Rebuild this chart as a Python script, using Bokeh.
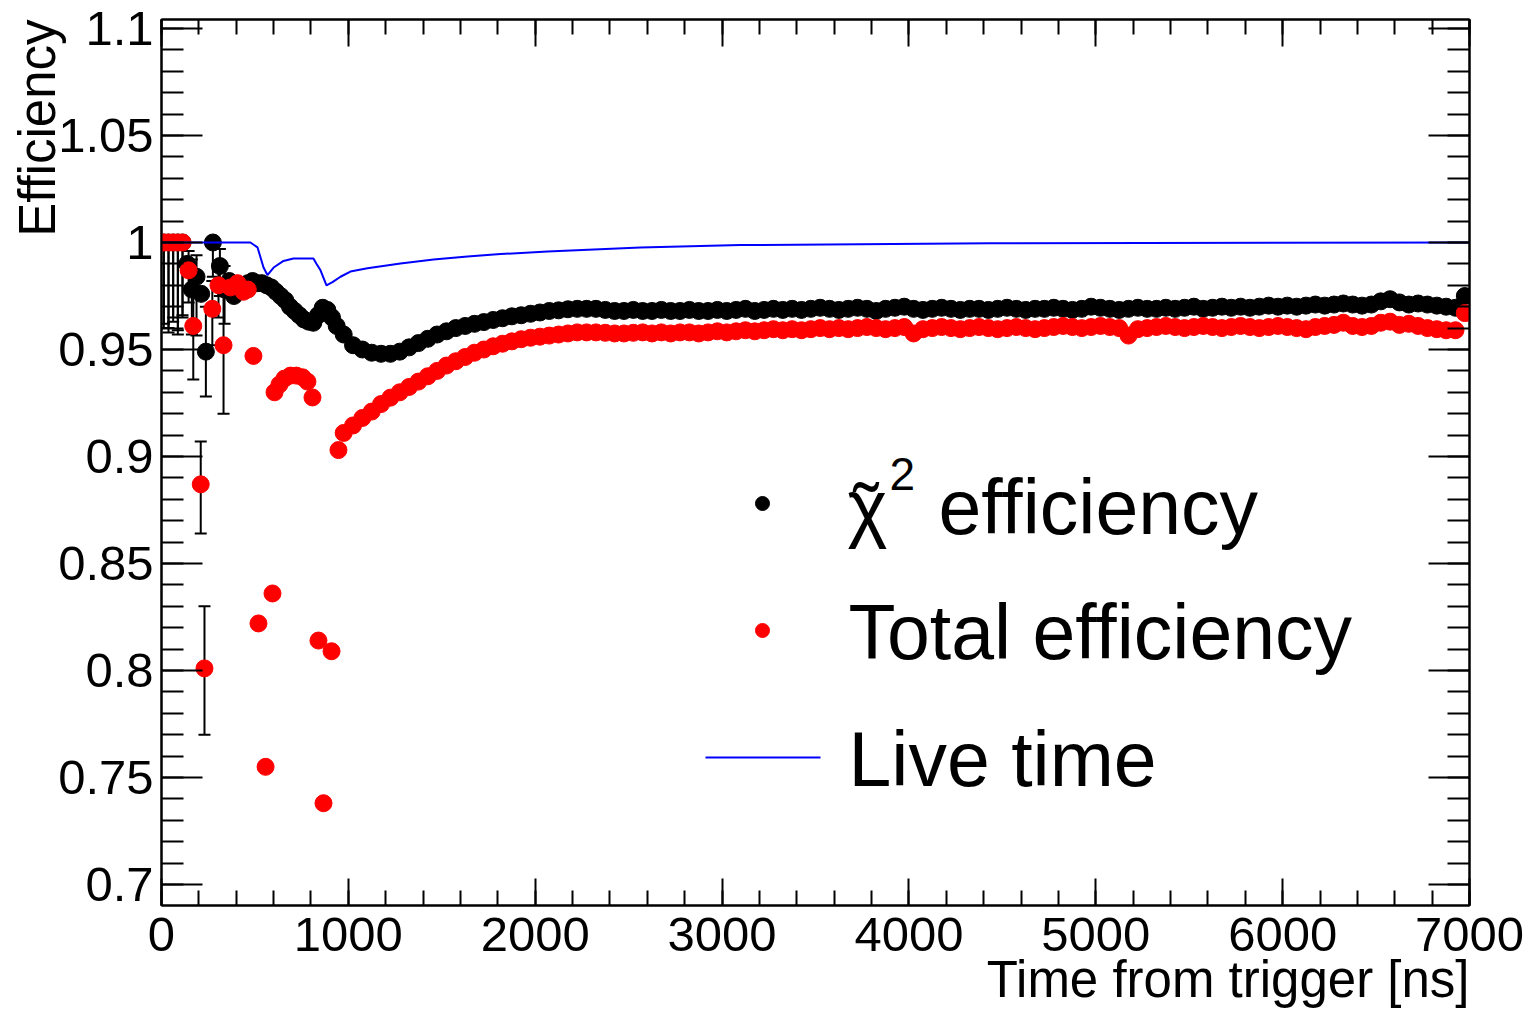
import math
from bokeh.plotting import figure
from bokeh.models import (Range1d, LinearAxis, FixedTicker, NumeralTickFormatter,
                          CustomJSTickFormatter, Title, ColumnDataSource, Whisker, TeeHead)
from bokeh.embed import file_html
from bokeh.resources import INLINE
from bokeh.core.properties import value

# ---------------- data ----------------
# chi2 efficiency: early, irregular bins (ns) and values
chi2_t_early = [12.5, 37.5, 62.5, 87.5, 112.5, 137.5, 162.5, 187.5, 212.5, 237.5,
                275, 312.5, 337.5, 362.5, 387.5, 412.5, 437.5, 462.5, 487.5,
                512.5, 537.5, 562.5, 587.5, 612.5, 637.5, 662.5, 687.5, 712.5,
                737.5, 762.5, 787.5, 812.5, 837.5, 862.5, 887.5, 912.5, 937.5]
chi2_eff_early = [1.0, 1.0, 1.0, 1.0, 1.0, 0.990, 0.978, 0.984, 0.976, 0.949,
                  1.0, 0.989, 0.978, 0.982, 0.975, 0.978, 0.980, 0.981, 0.982,
                  0.981, 0.981, 0.980, 0.979, 0.977, 0.975, 0.973, 0.970, 0.968,
                  0.966, 0.964, 0.963, 0.9625, 0.966, 0.9695, 0.9685, 0.965, 0.961]
# chi2 efficiency: 50 ns bins starting at 975 ns
chi2_eff_band = [
    0.957, 0.952, 0.950, 0.9485, 0.948, 0.948, 0.949, 0.951, 0.953, 0.955,
    0.957, 0.9585, 0.960, 0.961, 0.962, 0.9628, 0.9638, 0.9646, 0.9655, 0.966,
    0.9667, 0.9673, 0.968, 0.9683, 0.9688, 0.969, 0.969, 0.969, 0.9685, 0.968,
    0.968, 0.9685, 0.968, 0.968, 0.9685, 0.968, 0.968, 0.9685, 0.968, 0.968,
    0.9685, 0.968, 0.9685, 0.969, 0.968, 0.9685, 0.969, 0.9685, 0.969, 0.9685,
    0.969, 0.9695, 0.969, 0.9685, 0.969, 0.9695, 0.969, 0.968, 0.969, 0.9695,
    0.970, 0.969, 0.9685, 0.969, 0.9695, 0.969, 0.9685, 0.969, 0.969, 0.9685,
    0.969, 0.9695, 0.969, 0.9685, 0.969, 0.969, 0.9695, 0.969, 0.9685, 0.969,
    0.970, 0.9695, 0.969, 0.9685, 0.969, 0.9695, 0.969, 0.969, 0.9695, 0.969,
    0.9695, 0.970, 0.969, 0.9695, 0.970, 0.9695, 0.970, 0.9695, 0.970, 0.9705,
    0.970, 0.9705, 0.970, 0.9705, 0.971, 0.9705, 0.971, 0.9715, 0.971, 0.9705,
    0.971, 0.9725, 0.9735, 0.972, 0.971, 0.9715, 0.971, 0.9705, 0.970, 0.9695,
    0.975]

# total efficiency: early, irregular bins
total_t_early = [12.5, 37.5, 62.5, 87.5, 112.5, 145, 170, 210, 230, 272, 305, 332,
                 369, 407, 439, 462, 492, 519, 557, 594, 605, 631, 658, 690, 722,
                 755, 781, 808, 840, 867, 910, 947]
total_eff_early = [1.0, 1.0, 1.0, 1.0, 1.0, 0.987, 0.961, 0.887, 0.801, 0.969, 0.980,
                   0.952, 0.979, 0.981, 0.977, 0.978, 0.947, 0.822, 0.755, 0.836,
                   0.930, 0.9336, 0.9364, 0.9378, 0.9378, 0.937, 0.935, 0.9276,
                   0.814, 0.738, 0.809, 0.903]
total_eff_band = [
    0.911, 0.9145, 0.918, 0.921, 0.9245, 0.9275, 0.930, 0.9325, 0.935, 0.9375,
    0.940, 0.9425, 0.9445, 0.9465, 0.9485, 0.950, 0.9515, 0.9527, 0.9538, 0.9548,
    0.9555, 0.956, 0.9565, 0.957, 0.9575, 0.958, 0.958, 0.958, 0.9578, 0.9575,
    0.9575, 0.9578, 0.958, 0.9575, 0.958, 0.9575, 0.958, 0.958, 0.9575, 0.958,
    0.9585, 0.958, 0.9585, 0.959, 0.9585, 0.959, 0.9595, 0.959, 0.9595, 0.959,
    0.9595, 0.960, 0.9595, 0.960, 0.9595, 0.960, 0.9605, 0.960, 0.9595, 0.960,
    0.9605, 0.9575, 0.9595, 0.960, 0.9605, 0.960, 0.9595, 0.960, 0.9605, 0.960,
    0.9595, 0.960, 0.9605, 0.960, 0.9595, 0.960, 0.9605, 0.961, 0.9605, 0.960,
    0.9605, 0.961, 0.9605, 0.960, 0.9565, 0.9595, 0.960, 0.9605, 0.961, 0.9605,
    0.960, 0.9605, 0.961, 0.9605, 0.960, 0.9605, 0.961, 0.9605, 0.960, 0.9605,
    0.961, 0.9605, 0.960, 0.9595, 0.9605, 0.961, 0.9615, 0.9625, 0.961, 0.9605,
    0.961, 0.9625, 0.963, 0.9615, 0.962, 0.961, 0.960, 0.9595, 0.959, 0.959,
    0.967]
band_start, band_step = 975, 50

# error bars (black) of the low-statistics early bins
chi2_err_t = [12.5, 37.5, 62.5, 87.5, 112.5, 162.5, 187.5, 237.5, 275, 312.5, 337.5]
chi2_err_lo = [0.962, 0.960, 0.965, 0.959, 0.966, 0.957, 0.9565, 0.928, 0.984, 0.975, 0.962]
chi2_err_hi = [1.0, 1.0, 1.0, 1.0, 1.0, 0.992, 0.994, 0.970, 1.0, 0.997, 0.989]
total_err_t = [12.5, 37.5, 62.5, 87.5, 112.5, 145, 170, 210, 230, 272, 305, 332]
total_err_lo = [0.960, 0.958, 0.963, 0.957, 0.965, 0.972, 0.936, 0.864, 0.770, 0.952, 0.965, 0.920]
total_err_hi = [1.0, 1.0, 1.0, 1.0, 1.0, 0.996, 0.980, 0.907, 0.830, 0.982, 0.989, 0.976]

# live time
live_t = [0, 476, 514, 546, 567, 600, 653, 706, 813, 830, 851, 883, 915, 958, 1011,
          1102, 1279, 1456, 1638, 1814, 2066, 2563, 3099, 4437, 7000]
live_eff = [1.0, 1.0, 0.9977, 0.9883, 0.9848, 0.9883, 0.9914, 0.9925, 0.9925, 0.9900,
            0.9870, 0.9800, 0.9815, 0.9840, 0.9864, 0.9880, 0.9902, 0.9921, 0.9935,
            0.9946, 0.9958, 0.9977, 0.9988, 0.9996, 1.0]

x_major_ticks = [0, 1000, 2000, 3000, 4000, 5000, 6000, 7000]
y_major_ticks = [0.7, 0.75, 0.8, 0.85, 0.9, 0.95, 1.0, 1.05, 1.1]

legend_labels = ["efficiency", "Total efficiency", "Live time"]
x_title = "Time from trigger [ns]"
y_title = "Efficiency"

# ---------------- layout ----------------
FONT = "Liberation Sans"
W, H = 1533, 1011
FL, FR, FT, FB = 161, 1469, 19, 905
X0, X1 = 0.0, 7000.0
Y0, Y1 = 0.6902, 1.1042
BASE_SHIFT = 0.355  # empirical correction for the text glyph baseline (in em)


def xd(px):
    return X0 + (px - FL) / (FR - FL) * (X1 - X0)


def yd(py):
    return Y1 - (py - FT) / (FB - FT) * (Y1 - Y0)


def ybase(py, size):
    return yd(py - BASE_SHIFT * size)


chi2_t = chi2_t_early + [band_start + band_step * i for i in range(len(chi2_eff_band))]
chi2_eff = chi2_eff_early + chi2_eff_band
total_t = total_t_early + [band_start + band_step * i for i in range(len(total_eff_band))]
total_eff = total_eff_early + total_eff_band

p = figure(width=W, height=H, output_backend="svg", toolbar_location=None,
           x_range=Range1d(X0, X1), y_range=Range1d(Y0, Y1),
           x_axis_location=None, y_axis_location=None,
           min_border_left=FL, min_border_right=W - FR,
           min_border_top=FT, min_border_bottom=H - FB)
p.grid.visible = False
p.outline_line_color = "black"
p.outline_line_width = 2
p.background_fill_color = "white"
p.border_fill_color = "white"

x_minor = [v for v in range(0, 7001, 200)]
y_minor = [round(0.69 + 0.01 * i, 2) for i in range(0, 42)]
xt = FixedTicker(ticks=x_major_ticks, minor_ticks=x_minor)
yt = FixedTicker(ticks=y_major_ticks, minor_ticks=y_minor)


def style_axis(ax, major_in, minor_in, labels):
    ax.major_tick_in = major_in
    ax.major_tick_out = 0
    ax.minor_tick_in = minor_in
    ax.minor_tick_out = 0
    ax.axis_line_width = 2
    ax.major_tick_line_width = 2
    ax.minor_tick_line_width = 2
    ax.axis_line_color = "black"
    ax.major_tick_line_color = "black"
    ax.minor_tick_line_color = "black"
    if labels:
        ax.major_label_text_font = FONT
        ax.major_label_text_font_size = "49px"
        ax.major_label_text_color = "black"
    else:
        ax.formatter = CustomJSTickFormatter(code="return ''")
        ax.major_label_text_font_size = "1px"
        ax.major_label_standoff = 0


xb = LinearAxis(ticker=xt)
style_axis(xb, 27, 15, True)
xb.major_label_standoff = 12
xa = LinearAxis(ticker=xt)
style_axis(xa, 27, 15, False)
yl = LinearAxis(ticker=yt, formatter=NumeralTickFormatter(format="0.[00]"))
style_axis(yl, 41, 22, True)
yl.major_label_standoff = 8
yr = LinearAxis(ticker=yt)
style_axis(yr, 41, 22, False)
p.add_layout(xb, "below")
p.add_layout(xa, "above")
p.add_layout(yl, "left")
p.add_layout(yr, "right")

# axis titles (ROOT style: aligned to the end of the axis)
p.add_layout(Title(text=x_title, align="right", offset=0, standoff=-10,
                   text_font=FONT, text_font_size="51px", text_font_style="normal",
                   text_color="black"), "below")
p.add_layout(Title(text=y_title, align="right", offset=0, standoff=-21,
                   text_font=FONT, text_font_size="51px", text_font_style="normal",
                   text_color="black"), "left")

# error bars
for et, elo, ehi in [(chi2_err_t, chi2_err_lo, chi2_err_hi),
                     (total_err_t, total_err_lo, total_err_hi)]:
    src = ColumnDataSource(dict(t=et, lo=elo, hi=ehi))
    p.add_layout(Whisker(source=src, base="t", lower="lo", upper="hi",
                         line_color="black", line_width=2,
                         upper_head=TeeHead(size=12, line_width=2, line_color="black"),
                         lower_head=TeeHead(size=12, line_width=2, line_color="black")))

p.scatter(chi2_t, chi2_eff, size=17, color="black", line_color="black")
p.scatter(total_t, total_eff, size=17, color="red", line_color="red")
p.line(live_t, live_eff, line_color="#0000ff", line_width=2)

# legend (drawn by hand to follow the reference layout)
p.scatter([xd(762)], [yd(503)], size=14, color="black")
p.scatter([xd(762)], [yd(630)], size=14, color="red")
p.line([xd(705), xd(820)], [yd(757), yd(757)], line_color="#0000ff", line_width=2)
p.text(x=[xd(847)], y=[ybase(533, 76)], text=["χ"], text_font=value(FONT),
       text_font_size="76px", text_baseline="alphabetic", text_align="left", text_color="black")
p.text(x=[xd(853)], y=[ybase(537, 76)], text=["˜"], text_font=value(FONT),
       text_font_size="76px", text_baseline="alphabetic", text_align="left", text_color="black")
p.text(x=[xd(889)], y=[ybase(490, 46)], text=["2"], text_font=value(FONT),
       text_font_size="46px", text_baseline="alphabetic", text_align="left", text_color="black")
p.text(x=[xd(938), xd(848), xd(848)],
       y=[ybase(533, 76), ybase(658, 76), ybase(785, 76)], text=legend_labels,
       text_font=value(FONT), text_font_size="77px", text_baseline="alphabetic",
       text_align="left", text_color="black")

open("out.html", "w").write(file_html(p, INLINE))
